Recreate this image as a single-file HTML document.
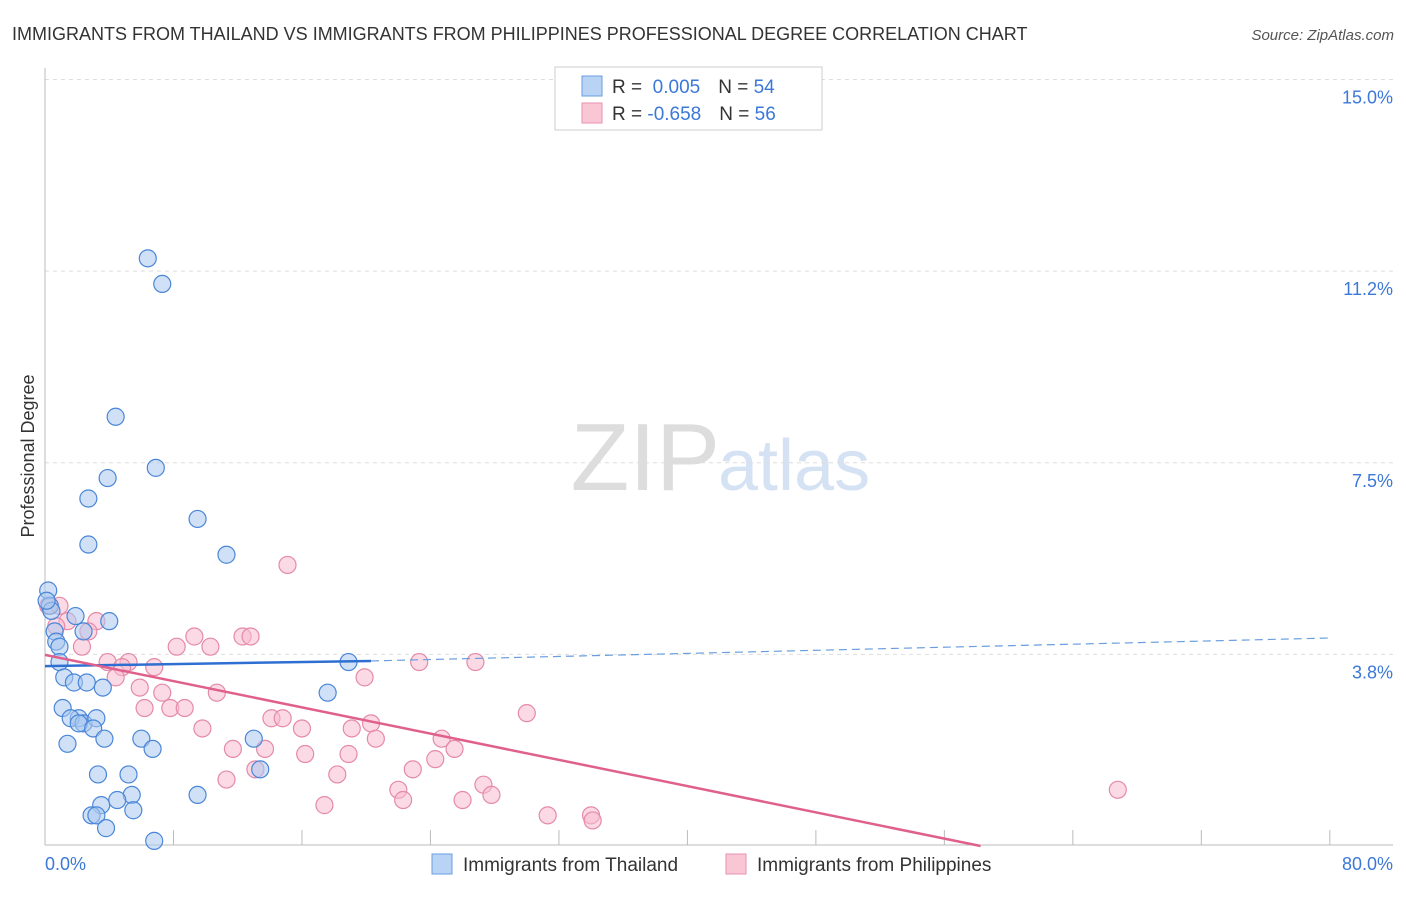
<!DOCTYPE html>
<html><head><meta charset="utf-8"><style>
body{margin:0;background:#fff;font-family:"Liberation Sans",sans-serif;}
svg text{font-family:"Liberation Sans",sans-serif;}
</style></head><body>
<svg width="1406" height="892">
<text x="12" y="40" font-size="18" fill="#333">IMMIGRANTS FROM THAILAND VS IMMIGRANTS FROM PHILIPPINES PROFESSIONAL DEGREE CORRELATION CHART</text>
<text x="1394" y="40" font-size="15" fill="#555" text-anchor="end" font-style="italic">Source: ZipAtlas.com</text>
<text x="720" y="490" font-size="96" fill="#ddd" text-anchor="end" font-family="Liberation Serif">ZIP</text>
<text x="718" y="490" font-size="72" fill="#d5e2f4">atlas</text>
<g id="grid"></g>
<g id="axes"></g>
<g id="pts"></g>
<g id="trend"></g>
<text x="34" y="456" font-size="18" fill="#333" text-anchor="middle" transform="rotate(-90 34 456)">Professional Degree</text>
<text x="45" y="870" font-size="18" fill="#3b78d8">0.0%</text>
<text x="1393" y="870" font-size="18" fill="#3b78d8" text-anchor="end">80.0%</text>
<g>
<rect x="555" y="67" width="267" height="63" fill="#fff" stroke="#ccc"/>
<rect x="582" y="76" width="20" height="20" fill="#b9d3f5" stroke="#6a9ee0"/>
<rect x="582" y="103" width="20" height="20" fill="#f9c6d6" stroke="#e892ae"/>
<text x="612" y="93" font-size="19" fill="#333">R = <tspan fill="#3b78d8">&#160;0.005</tspan><tspan dx="18">N = </tspan><tspan fill="#3b78d8">54</tspan></text>
<text x="612" y="120" font-size="19" fill="#333">R = <tspan fill="#3b78d8">-0.658</tspan><tspan dx="18">N = </tspan><tspan fill="#3b78d8">56</tspan></text>
</g>
<g>
<rect x="432" y="854" width="20" height="20" fill="#b9d3f5" stroke="#6a9ee0"/>
<text x="463" y="871" font-size="19" fill="#333">Immigrants from Thailand</text>
<rect x="726" y="854" width="20" height="20" fill="#f9c6d6" stroke="#e892ae"/>
<text x="757" y="871" font-size="19" fill="#333">Immigrants from Philippines</text>
</g>
</svg>
<script>
const yTicks=[3.8,7.5,11.2,15.0];
const xTicks=[0,8,16,24,32,40,48,56,64,72,80];
const blueX=[6.4,7.3,4.4,6.9,3.9,2.7,9.5,2.7,11.3,0.2,0.3,0.4,1.9,4.0,0.6,2.4,0.7,0.9,18.9,0.9,1.2,1.8,2.6,3.6,17.6,1.1,2.1,1.6,2.4,3.2,2.1,3.0,3.7,13.0,6.0,1.4,6.7,13.4,3.3,5.2,3.5,5.4,4.5,5.5,9.5,2.9,3.2,3.8,6.8,0.1];
const blueY=[11.5,11.0,8.4,7.4,7.2,6.8,6.4,5.9,5.7,5.0,4.7,4.6,4.5,4.4,4.2,4.2,4.0,3.9,3.6,3.6,3.3,3.2,3.2,3.1,3.0,2.7,2.5,2.5,2.4,2.5,2.4,2.3,2.1,2.1,2.1,2.0,1.9,1.5,1.4,1.4,0.8,1.0,0.9,0.7,1.0,0.6,0.6,0.35,0.1,4.8];
const pinkX=[15.1,0.2,0.9,1.4,3.2,2.7,9.3,12.3,12.8,0.7,2.3,8.2,10.3,3.9,5.2,23.3,26.8,6.8,4.8,4.4,19.9,5.9,10.7,7.3,7.8,6.2,8.7,30.0,14.1,14.8,9.8,16.0,19.1,20.3,24.7,20.6,11.7,13.7,16.2,18.9,25.5,24.3,22.9,13.1,18.2,11.3,22.0,27.3,22.3,27.8,26.0,17.4,66.8,31.3,34.0,34.1];
const pinkY=[5.5,4.7,4.7,4.4,4.4,4.2,4.1,4.1,4.1,4.3,3.9,3.9,3.9,3.6,3.6,3.6,3.6,3.5,3.5,3.3,3.3,3.1,3.0,3.0,2.7,2.7,2.7,2.6,2.5,2.5,2.3,2.3,2.3,2.4,2.1,2.1,1.9,1.9,1.8,1.8,1.9,1.7,1.5,1.5,1.4,1.3,1.1,1.2,0.9,1.0,0.9,0.8,1.1,0.6,0.6,0.5];
const blueTrend=[0.005,3.52];
const pinkTrend=[-0.0642,3.74];
const NS='http://www.w3.org/2000/svg';
const xs=v=>45+v*16.06, ys=v=>846-v*51.1;
function mk(t,a,p){const e=document.createElementNS(NS,t);for(const k in a)e.setAttribute(k,a[k]);p.appendChild(e);return e;}
const grid=document.getElementById('grid'),axes=document.getElementById('axes'),pts=document.getElementById('pts'),tr=document.getElementById('trend');
yTicks.forEach(v=>{const y=ys(v===3.8?3.75:v===11.2?11.25:v);
const l=mk('line',{x1:45,x2:1393,y1:y,y2:y,stroke:'#ddd','stroke-dasharray':'4,4'},grid);


const t=mk('text',{x:1393,y:y+24,'font-size':18,fill:'#3b78d8','text-anchor':'end'},grid);t.textContent=v.toFixed(1)+'%';

});
const ax=mk('line',{x1:45,x2:1393,y1:845,y2:845,stroke:'#bbb'},axes);


const ay=mk('line',{x1:45,x2:45,y1:68,y2:845,stroke:'#bbb'},axes);


xTicks.forEach(v=>{const t=mk('line',{x1:xs(v),x2:xs(v),y1:830,y2:845,stroke:'#bbb'},axes);

});
function series(X,Y,fill,stroke,name){X.forEach((x,i)=>{const c=mk('circle',{cx:xs(x),cy:ys(Y[i]),r:8.5,fill:fill,'fill-opacity':0.55,stroke:stroke,'stroke-width':1.2},pts);

});}
series(pinkX,pinkY,'#f7bccf','#e58aa8','point-philippines');
series(blueX,blueY,'#aac8f0','#4a86d8','point-thailand');
const b1=mk('line',{x1:xs(0),y1:ys(blueTrend[1]),x2:xs(20.3),y2:ys(blueTrend[1]+blueTrend[0]*20.3),stroke:'#2f6fd1','stroke-width':2.5},tr);


const b2=mk('line',{x1:xs(20.3),y1:ys(blueTrend[1]+blueTrend[0]*20.3),x2:xs(80),y2:ys(blueTrend[1]+blueTrend[0]*80+0.15),stroke:'#6a9ee0','stroke-width':1.2,'stroke-dasharray':'8,5'},tr);


const xe=-pinkTrend[1]/pinkTrend[0];
const p1=mk('line',{x1:xs(0),y1:ys(pinkTrend[1]),x2:xs(xe),y2:ys(0),stroke:'#e0608d','stroke-width':2.5},tr);


</script>
</body></html>
